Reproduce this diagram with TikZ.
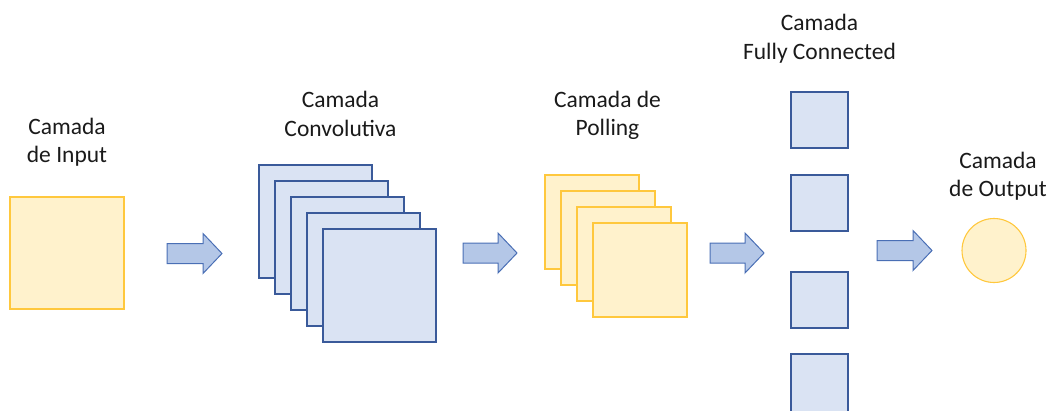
\documentclass[tikz,border=0pt]{standalone}
\usepackage{fontspec}
\setmainfont{Carlito}
\usetikzlibrary{shapes.arrows}
\definecolor{yfill}{HTML}{FFF2CC}
\definecolor{yline}{HTML}{FFC83D}
\definecolor{bfill}{HTML}{DAE3F3}
\definecolor{bline}{HTML}{3A5A9A}
\definecolor{afill}{HTML}{B4C7E7}
\definecolor{aline}{HTML}{4A6FB5}
\definecolor{txt}{HTML}{1A1A1A}
\tikzset{
  ysq/.style={draw=yline, fill=yfill, line width=1.1pt},
  bsq/.style={draw=bline, fill=bfill, line width=1.1pt},
  flow/.style={draw=aline, fill=afill, line width=1pt},
  lbl/.style={text=txt, align=center, font=\fontsize{23.5}{28.5}\selectfont, anchor=base},
}
\newcommand{\flowarrow}[4]{% name, x0, x1 (tip), y (centre)
  \path[flow] (#2,#4-10) -- (#3-19,#4-10) -- (#3-19,#4-20) -- (#3,#4)
    -- (#3-19,#4+20) -- (#3-19,#4+10) -- (#2,#4+10) -- cycle;
  \coordinate (#1) at (#3,#4);
}
\begin{document}
\begin{tikzpicture}[x=1pt,y=-1pt]
\useasboundingbox (0,0) rectangle (1051,410);
\begin{scope}
\clip (0,0) rectangle (1051,410);

% input layer
\path[ysq] (10,197) rectangle (124,309);
\node[lbl] (linput) at (67,162.5) {Camada\\de Input};

% convolutional layer: five stacked feature maps
\foreach \i in {0,...,4}
  \path[bsq] (259+16*\i,165+16*\i) rectangle ++(113,113);
\node[lbl] (lconv) at (340.5,136) {Camada\\Convolutiva};

% pooling layer: four stacked maps
\foreach \i in {0,...,3}
  \path[ysq] (545+16*\i,175+16*\i) rectangle ++(94,94);
\node[lbl] (lpool) at (607.5,135.5) {Camada de\\Polling};

% fully connected layer
\path[bsq] (791,92) rectangle (848,148);
\path[bsq] (791,175) rectangle (848,231);
\path[bsq] (791,272) rectangle (848,328);
\path[bsq] (791,354) rectangle (848,414);
\node[lbl] (lfc) at (819.5,59) {Camada\\Fully Connected};

% output layer
\path[ysq] (994,250.5) circle (32);
\node[lbl] (lout) at (998,196.5) {Camada\\de Output};

% flow arrows between layers
\flowarrow{a1}{167}{222}{253.5}
\flowarrow{a2}{463}{517}{253}
\flowarrow{a3}{710}{764}{253}
\flowarrow{a4}{877}{932}{250.5}
\end{scope}
\end{tikzpicture}
\end{document}
